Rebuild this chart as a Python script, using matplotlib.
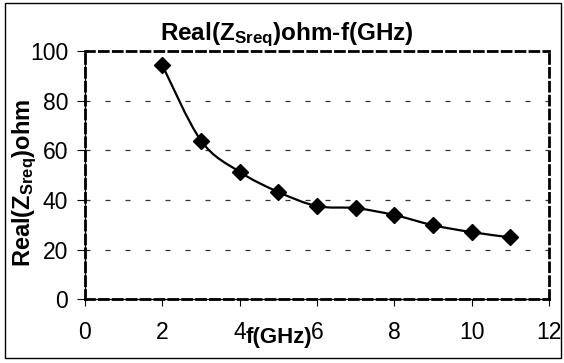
import numpy as np
import matplotlib.pyplot as plt
from matplotlib.path import Path
from matplotlib.patches import PathPatch, Rectangle

plt.rcParams['font.family'] = ['Liberation Sans', 'DejaVu Sans']
plt.rcParams['mathtext.fontset'] = 'custom'
plt.rcParams['mathtext.rm'] = 'Liberation Sans'
plt.rcParams['mathtext.bf'] = 'Liberation Sans:bold'

# data
freq_ghz = [2, 3, 4, 5, 6, 7, 8, 9, 10, 11]
real_z = [94.3, 63.9, 51.3, 43.2, 37.5, 36.7, 33.9, 29.8, 27.0, 24.9]
x_ticks = [0, 2, 4, 6, 8, 10, 12]
y_ticks = [0, 20, 40, 60, 80, 100]


def smooth_path(xs, ys):
    # Excel-style smoothed line: cubic bezier through the points (catmull-rom tangents)
    xs = np.asarray(xs, float)
    ys = np.asarray(ys, float)
    verts = [(xs[0], ys[0])]
    codes = [Path.MOVETO]
    n = len(xs)
    for i in range(n - 1):
        x0, y0 = (xs[i - 1], ys[i - 1]) if i > 0 else (xs[i], ys[i])
        x3, y3 = (xs[i + 2], ys[i + 2]) if i + 2 < n else (xs[i + 1], ys[i + 1])
        c1 = (xs[i] + (xs[i + 1] - x0) / 6, ys[i] + (ys[i + 1] - y0) / 6)
        c2 = (xs[i + 1] - (x3 - xs[i]) / 6, ys[i + 1] - (y3 - ys[i]) / 6)
        verts += [c1, c2, (xs[i + 1], ys[i + 1])]
        codes += [Path.CURVE4] * 3
    return Path(verts, codes)


fig = plt.figure(figsize=(5.64, 3.63), dpi=100)
ax = fig.add_axes([0.1507, 0.176, 0.823, 0.683])

ax.add_patch(PathPatch(smooth_path(freq_ghz, real_z), facecolor='none',
                       edgecolor='black', linewidth=1.6, zorder=3))
ax.plot(freq_ghz, real_z, linestyle='none', marker='D', markersize=8,
        color='black', zorder=4, clip_on=False)

ax.set_xlim(0, 12)
ax.set_ylim(0, 100)
ax.set_xticks(x_ticks)
ax.set_yticks(y_ticks)
ax.tick_params(axis='both', labelsize=16.5, color='black', width=0.8)
ax.tick_params(axis='y', direction='out', length=6, pad=6)
ax.tick_params(axis='x', direction='out', length=5, pad=10.5)

# horizontal gridlines
for yv in y_ticks[1:-1]:
    ax.axhline(yv, color='#333333', linewidth=0.9, dashes=(4, 12), zorder=1)

# dashed plot-area border plus solid axis lines
for s in ax.spines.values():
    s.set_linestyle((0, (3.2, 1.8)))
    s.set_linewidth(2.0)
ax.axhline(0, color='black', linewidth=0.9, zorder=2, clip_on=False)
ax.axvline(0, color='black', linewidth=0.9, zorder=2, clip_on=False)

ax.set_title(r'Real(Z$\mathbf{_{Sreq}}$)ohm-f(GHz)', fontsize=17.5, fontweight='bold',
             x=0.435, pad=8)
ax.set_xlabel('f(GHz)', fontsize=16, fontweight='bold', va='center')
ax.xaxis.set_label_coords(0.418, -0.155)
ax.set_ylabel(r'Real(Z$\mathbf{_{Sreq}}$)ohm', fontsize=17, fontweight='bold', va='center')
ax.yaxis.set_label_coords(-0.13, 0.47)

# outer chart frame
fig.patches.append(Rectangle((0.009, 0.014), 0.986, 0.978, transform=fig.transFigure,
                             fill=False, edgecolor='black', linewidth=1.0))

fig.savefig('out.png', dpi=100)
